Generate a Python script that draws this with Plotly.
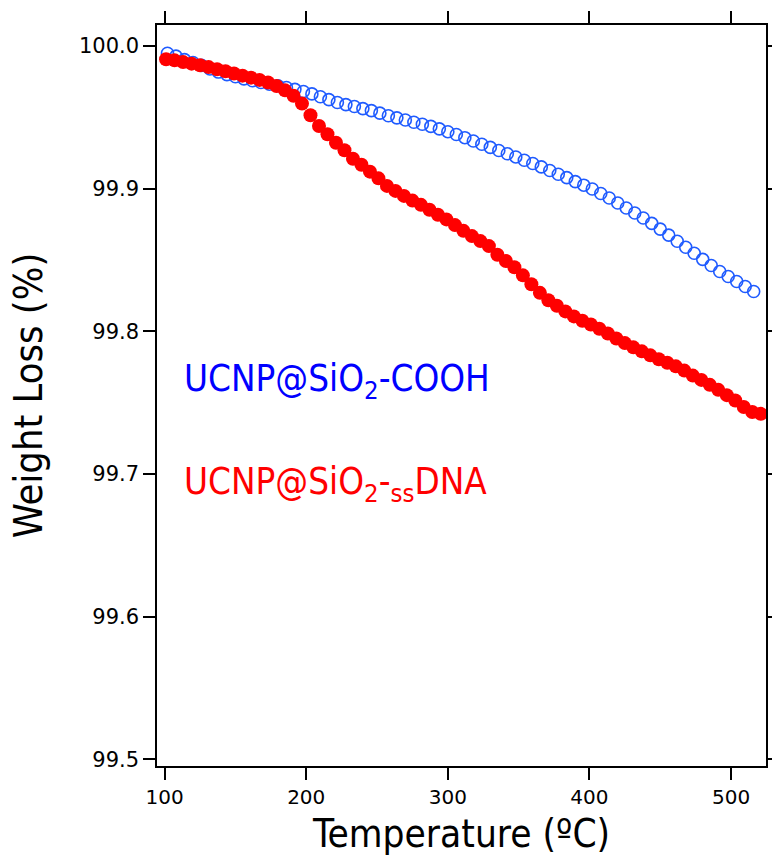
import plotly.graph_objects as go

# Blue series: UCNP@SiO2-COOH (open circles)
temp_cooh = [102, 108, 114, 120, 126, 132, 138, 144, 150, 156, 162, 168, 174, 180, 186, 192, 198,
             204, 210, 216, 222, 228, 234, 240, 246, 252, 258, 264, 270, 276, 282, 288, 294, 300,
             306, 312, 318, 324, 330, 336, 342, 348, 354, 360, 366, 372, 378, 384, 390, 396, 402,
             408, 414, 420, 426, 432, 438, 444, 450, 456, 462, 468, 474, 480, 486, 492, 498, 504,
             510, 516]
weight_cooh = [99.9950, 99.9930, 99.9905, 99.9885, 99.9865, 99.9840, 99.9818, 99.9800, 99.9785,
               99.9770, 99.9757, 99.9745, 99.9733, 99.9722, 99.9710, 99.9697, 99.9682, 99.9665,
               99.9645, 99.9625, 99.9605, 99.9590, 99.9577, 99.9562, 99.9548, 99.9530, 99.9512,
               99.9497, 99.9482, 99.9466, 99.9452, 99.9437, 99.9420, 99.9400, 99.9380, 99.9358,
               99.9335, 99.9312, 99.9290, 99.9268, 99.9245, 99.9223, 99.9200, 99.9177, 99.9153,
               99.9128, 99.9102, 99.9078, 99.9050, 99.9025, 99.8998, 99.8967, 99.8935, 99.8900,
               99.8865, 99.8830, 99.8795, 99.8757, 99.8717, 99.8675, 99.8632, 99.8590, 99.8548,
               99.8505, 99.8462, 99.8420, 99.8385, 99.8350, 99.8315, 99.8280]

# Red series: UCNP@SiO2-ssDNA (filled circles)
temp_dna = [101, 107, 113, 119, 125, 131, 137, 143, 149, 155, 161, 167, 173, 179, 185, 191, 197,
            203, 209, 215, 221, 227, 233, 239, 245, 251, 257, 263, 269, 275, 281, 287, 293, 299,
            305, 311, 317, 323, 329, 335, 341, 347, 353, 359, 365, 371, 377, 383, 389, 395, 401,
            407, 413, 419, 425, 431, 437, 443, 449, 455, 461, 467, 473, 479, 485, 491, 497, 503,
            509, 515, 521]
weight_dna = [99.9908, 99.9900, 99.9888, 99.9877, 99.9866, 99.9853, 99.9838, 99.9824, 99.9808,
              99.9793, 99.9779, 99.9763, 99.9745, 99.9720, 99.9690, 99.9652, 99.9597, 99.9515,
              99.9440, 99.9382, 99.9322, 99.9270, 99.9210, 99.9168, 99.9120, 99.9073, 99.9020,
              99.8985, 99.8950, 99.8917, 99.8887, 99.8853, 99.8818, 99.8785, 99.8745, 99.8705,
              99.8668, 99.8633, 99.8598, 99.8537, 99.8493, 99.8450, 99.8393, 99.8330, 99.8270,
              99.8218, 99.8180, 99.8140, 99.8105, 99.8075, 99.8048, 99.8018, 99.7985, 99.7950,
              99.7918, 99.7888, 99.7860, 99.7832, 99.7805, 99.7780, 99.7755, 99.7725, 99.7690,
              99.7660, 99.7625, 99.7590, 99.7553, 99.7515, 99.7470, 99.7435, 99.7422]

x_ticks = [100, 200, 300, 400, 500]
y_ticks = [99.5, 99.6, 99.7, 99.8, 99.9, 100.0]
y_ticklabels = ["99.5", "99.6", "99.7", "99.8", "99.9", "100.0"]

FONT = "DejaVu Sans"
TITLE_FONT = "DejaVu Sans Condensed, DejaVu Sans"

fig = go.Figure()
fig.add_trace(go.Scatter(
    x=temp_cooh, y=weight_cooh, mode="markers",
    marker=dict(symbol="circle-open", size=12, color="#1f5bff", line=dict(width=1.6, color="#1f5bff")),
    showlegend=False))
fig.add_trace(go.Scatter(
    x=temp_dna, y=weight_dna, mode="markers",
    marker=dict(symbol="circle", size=14, color="#ff0000", line=dict(width=0)),
    showlegend=False))

fig.add_annotation(xref="paper", yref="y", x=0.041, y=99.7655, xanchor="left", yanchor="middle",
                   text="UCNP@SiO<sub>2</sub>-COOH", showarrow=False,
                   font=dict(family=TITLE_FONT, size=36.5, color="#0000ff"))
fig.add_annotation(xref="paper", yref="y", x=0.041, y=99.693, xanchor="left", yanchor="middle",
                   text="UCNP@SiO<sub>2</sub>-<sub>ss</sub>DNA", showarrow=False,
                   font=dict(family=TITLE_FONT, size=36.5, color="#ff0000"))

axis_common = dict(showline=True, linecolor="black", linewidth=1.5, mirror="ticks",
                   ticks="outside", ticklen=12, tickwidth=1.5, tickcolor="black",
                   showgrid=False, zeroline=False, automargin=False)

fig.update_xaxes(range=[94.6, 524.7], tickvals=x_ticks, ticktext=[str(v) for v in x_ticks],
                 tickfont=dict(family=FONT, size=20, color="black"),
                 title=dict(text="Temperature (ºC)", standoff=20,
                            font=dict(family=TITLE_FONT, size=38.5, color="black")),
                 **axis_common)
fig.update_yaxes(range=[99.4953, 100.0148], tickvals=y_ticks, ticktext=y_ticklabels,
                 tickfont=dict(family=FONT, size=21, color="black"),
                 title=dict(text="Weight Loss (%)", standoff=24,
                            font=dict(family=TITLE_FONT, size=39.5, color="black")),
                 **axis_common)

fig.update_layout(width=772, height=856, margin=dict(l=157, r=6, t=25, b=90),
                  plot_bgcolor="white", paper_bgcolor="white")

fig.write_html("out.html", config={"displayModeBar": False},
               post_script="document.body.style.margin='0px';")
